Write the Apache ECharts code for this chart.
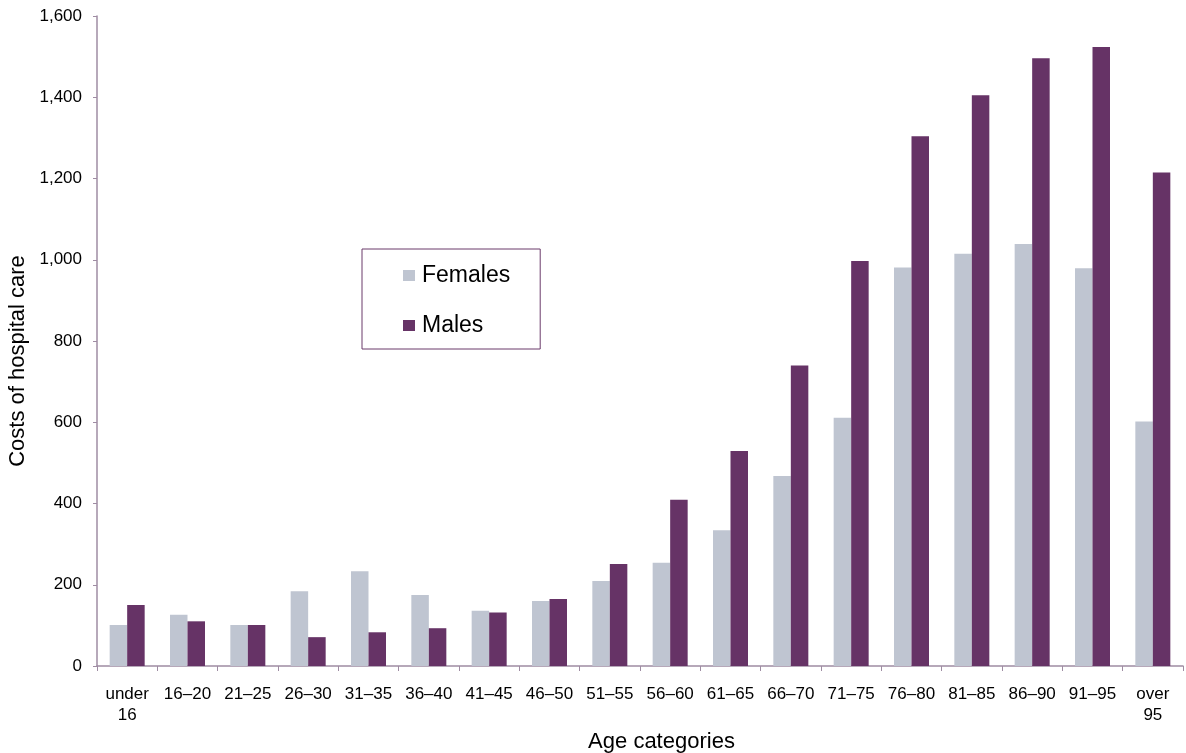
<!DOCTYPE html>
<html>
<head>
<meta charset="utf-8">
<script src="https://cdn.jsdelivr.net/npm/echarts@6/dist/echarts.min.js"></script>
<style>
html,body{margin:0;padding:0;background:#fff;}
#chart{width:1186px;height:753px;}
</style>
</head>
<body>
<div id="chart"></div>
<script>
const categories = ['under\n16','16–20','21–25','26–30','31–35','36–40','41–45','46–50','51–55','56–60','61–65','66–70','71–75','76–80','81–85','86–90','91–95','over\n95'];
const females = [101,126,101,184,233,175,136,160,209,254,334,468,611,981,1015,1039,979,602];
const males = [150,110,101,71,83,93,132,165,251,409,529,740,997,1304,1405,1496,1524,1215];
const yTicks = [0,200,400,600,800,1000,1200,1400,1600];

const axisColor = '#9f8ca3';
const font = 'Liberation Sans, Arial, sans-serif';
const chart = echarts.init(document.getElementById('chart'));
chart.setOption({
  animation: false,
  backgroundColor: '#ffffff',
  textStyle: { fontFamily: font },
  grid: { left: 97, right: 3, top: 16, bottom: 87, outerBoundsMode: 'none', containLabel: false },
  legend: {
    orient: 'vertical',
    left: 362, top: 249,
    padding: [15, 30, 12, 41],
    borderColor: '#6b3a6b', borderWidth: 1,
    itemWidth: 12, itemHeight: 11, itemGap: 27,
    icon: 'rect',
    textStyle: { fontSize: 23, color: '#000', fontFamily: font, padding: [0, 0, 0, 2] },
    data: ['Females', 'Males']
  },
  xAxis: {
    type: 'category',
    data: categories,
    name: 'Age categories',
    nameLocation: 'middle',
    nameGap: 64,
    nameTextStyle: { fontSize: 22, color: '#000', fontFamily: font, padding: [0, 0, 0, 43] },
    axisLine: { lineStyle: { color: axisColor, width: 1.5 } },
    axisTick: { show: true, length: 5, lineStyle: { color: axisColor } },
    axisLabel: { color: '#000', fontSize: 17, margin: 18, lineHeight: 21, interval: 0, fontFamily: font }
  },
  yAxis: {
    type: 'value',
    min: yTicks[0], max: yTicks[yTicks.length - 1], interval: 200,
    name: 'Costs of hospital care',
    nameLocation: 'middle',
    nameGap: 66,
    nameTextStyle: { fontSize: 22, color: '#000', fontFamily: font, padding: [0, 40, 0, 0] },
    axisLine: { show: true, lineStyle: { color: axisColor, width: 1.5 } },
    axisTick: { show: true, length: 4, lineStyle: { color: axisColor } },
    splitLine: { show: false },
    axisLabel: {
      color: '#000', fontSize: 17, margin: 15, fontFamily: font,
      formatter: v => v.toLocaleString('en-US')
    }
  },
  series: [
    { name: 'Females', type: 'bar', data: females, barWidth: 17.5, barGap: '0%', itemStyle: { color: '#bfc5d1' } },
    { name: 'Males', type: 'bar', data: males, barWidth: 17.5, barGap: '0%', itemStyle: { color: '#663366' } }
  ]
});
</script>
</body>
</html>
